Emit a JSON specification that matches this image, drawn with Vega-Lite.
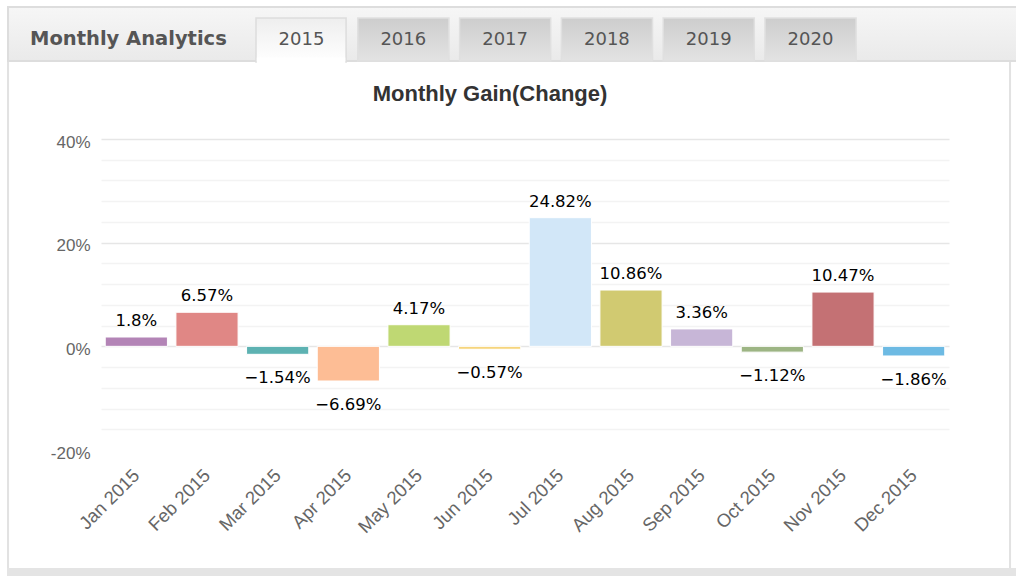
{
  "$schema": "https://vega.github.io/schema/vega-lite/v6.json",
  "padding": {"left": 6, "top": 6, "right": 0, "bottom": 0},
  "background": "#ffffff",
  "spacing": 77,
  "bounds": "flush",
  "config": {"view": {"stroke": null}},
  "datasets": {
    "header": [
      {"part": "frame", "x0": -2.446, "x1": 7.417, "y0": -0.018, "y1": 10.218},
      {"part": "inner", "x0": -2.426, "x1": 7.397, "y0": 0.018, "y1": 10.2},
      {"part": "bottombar", "x0": -2.446, "x1": 7.475, "y0": 10.2, "y1": 10.345},
      {"part": "headborder", "x0": -2.446, "x1": 7.475, "y0": -0.018, "y1": 1.0},
      {"part": "headfill", "x0": -2.426, "x1": 7.475, "y0": 0.018, "y1": 0.964},
      {"part": "seltab", "label": "2015", "x0": 0, "x1": 0.885, "y0": 0.2, "y1": 1.0, "xc": 0.447, "yc": 0.6},
      {"part": "tab", "label": "2016", "x0": 1, "x1": 1.895, "y0": 0.2, "y1": 0.982, "xc": 1.447, "yc": 0.6},
      {"part": "tab", "label": "2017", "x0": 2, "x1": 2.895, "y0": 0.2, "y1": 0.982, "xc": 2.447, "yc": 0.6},
      {"part": "tab", "label": "2018", "x0": 3, "x1": 3.895, "y0": 0.2, "y1": 0.982, "xc": 3.447, "yc": 0.6},
      {"part": "tab", "label": "2019", "x0": 4, "x1": 4.895, "y0": 0.2, "y1": 0.982, "xc": 4.447, "yc": 0.6},
      {"part": "tab", "label": "2020", "x0": 5, "x1": 5.895, "y0": 0.2, "y1": 0.982, "xc": 5.447, "yc": 0.6},
      {"part": "selcover", "x0": 0.008, "x1": 0.877, "y0": 0.92, "y1": 1.03},
      {"part": "heading", "label": "Monthly Analytics", "x0": -2.22, "y0": 0.575}
    ],
    "gains": [
      {"month": "Jan 2015", "gain": 0.018},
      {"month": "Feb 2015", "gain": 0.0657},
      {"month": "Mar 2015", "gain": -0.0154},
      {"month": "Apr 2015", "gain": -0.0669},
      {"month": "May 2015", "gain": 0.0417},
      {"month": "Jun 2015", "gain": -0.0057},
      {"month": "Jul 2015", "gain": 0.2482},
      {"month": "Aug 2015", "gain": 0.1086},
      {"month": "Sep 2015", "gain": 0.0336},
      {"month": "Oct 2015", "gain": -0.0112},
      {"month": "Nov 2015", "gain": 0.1047},
      {"month": "Dec 2015", "gain": -0.0186}
    ]
  },
  "vconcat": [
    {
      "width": 848,
      "height": 55,
      "data": {"name": "header"},
      "encoding": {
        "x": {"field": "x0", "type": "quantitative", "axis": null, "scale": {"domain": [-1.5226, 6.8075], "nice": false, "zero": false}},
        "y": {"field": "y0", "type": "quantitative", "axis": null, "scale": {"domain": [0, 1], "nice": false, "zero": false, "reverse": true}}
      },
      "layer": [
        {"transform": [{"filter": "datum.part === 'frame'"}], "mark": {"type": "rect", "fill": "#e2e2e2"}, "encoding": {"x2": {"field": "x1"}, "y2": {"field": "y1"}}},
        {"transform": [{"filter": "datum.part === 'inner'"}], "mark": {"type": "rect", "fill": "#ffffff"}, "encoding": {"x2": {"field": "x1"}, "y2": {"field": "y1"}}},
        {"transform": [{"filter": "datum.part === 'bottombar'"}], "mark": {"type": "rect", "fill": "#e4e4e4"}, "encoding": {"x2": {"field": "x1"}, "y2": {"field": "y1"}}},
        {"transform": [{"filter": "datum.part === 'headborder'"}], "mark": {"type": "rect", "fill": "#dddddd"}, "encoding": {"x2": {"field": "x1"}, "y2": {"field": "y1"}}},
        {"transform": [{"filter": "datum.part === 'headfill'"}], "mark": {"type": "rect", "fill": {"gradient": "linear", "x1": 0, "y1": 0, "x2": 0, "y2": 1, "stops": [{"offset": 0, "color": "#f6f6f6"}, {"offset": 1, "color": "#eaeaea"}]}}, "encoding": {"x2": {"field": "x1"}, "y2": {"field": "y1"}}},
        {"transform": [{"filter": "datum.part === 'tab'"}], "mark": {"type": "rect", "stroke": "#e0e0e0", "strokeWidth": 1.5, "fill": {"gradient": "linear", "x1": 0, "y1": 0, "x2": 0, "y2": 1, "stops": [{"offset": 0, "color": "#cdcdcd"}, {"offset": 1, "color": "#e3e3e3"}]}}, "encoding": {"x2": {"field": "x1"}, "y2": {"field": "y1"}}},
        {"transform": [{"filter": "datum.part === 'seltab'"}], "mark": {"type": "rect", "stroke": "#dddddd", "strokeWidth": 1.5, "fill": {"gradient": "linear", "x1": 0, "y1": 0, "x2": 0, "y2": 1, "stops": [{"offset": 0, "color": "#eeeeee"}, {"offset": 1, "color": "#ffffff"}]}}, "encoding": {"x2": {"field": "x1"}, "y2": {"field": "y1"}}},
        {"transform": [{"filter": "datum.part === 'selcover'"}], "mark": {"type": "rect", "fill": "#ffffff"}, "encoding": {"x2": {"field": "x1"}, "y2": {"field": "y1"}}},
        {"transform": [{"filter": "datum.part === 'heading'"}], "mark": {"type": "text", "align": "left", "baseline": "middle", "font": "DejaVu Sans", "fontSize": 19.5, "fontWeight": "bold", "fill": "#555555"}, "encoding": {"text": {"field": "label"}}},
        {"transform": [{"filter": "datum.part === 'tab' || datum.part === 'seltab'"}], "mark": {"type": "text", "align": "center", "baseline": "middle", "font": "DejaVu Sans", "fontSize": 18, "fill": "#555555"}, "encoding": {"x": {"field": "xc", "type": "quantitative", "axis": null}, "y": {"field": "yc", "type": "quantitative", "axis": null}, "text": {"field": "label"}}}
      ]
    },
    {
      "width": 848,
      "height": 311,
      "data": {"name": "gains"},
      "title": {"text": "Monthly Gain(Change)", "font": "Liberation Sans", "fontSize": 22, "fontWeight": "bold", "color": "#333333", "anchor": "middle", "frame": "group", "dx": -35, "baseline": "alphabetic", "offset": 10},
      "encoding": {
        "x": {"field": "month", "type": "nominal", "sort": null, "scale": {"paddingInner": 0.12, "paddingOuter": 0.06},
          "axis": {"title": null, "labelAngle": -45, "labelAlign": "right", "labelBaseline": "middle", "labelFont": "Liberation Sans", "labelFontSize": 18.5, "labelColor": "#666666", "labelPadding": 22, "ticks": false, "domain": false, "grid": false}}
      },
      "layer": [
        {
          "mark": {"type": "bar", "stroke": "#ffffff", "strokeWidth": 1},
          "encoding": {
            "y": {"field": "gain", "type": "quantitative", "scale": {"domain": [-0.2, 0.4], "nice": false},
              "axis": {"orient": "left", "values": [-0.2, 0, 0.2, 0.4], "labelExpr": "round(datum.value*100) + '%'", "labelFont": "Liberation Sans", "labelFontSize": 17, "labelColor": "#666666", "labelPadding": 11, "labelOffset": 3, "ticks": false, "domain": false, "title": null, "grid": true, "gridColor": "#e6e6e6", "gridWidth": 1.5, "gridOpacity": {"condition": {"test": "datum.value < -0.1", "value": 0}, "value": 1}}},
            "color": {"field": "month", "type": "nominal", "sort": null, "legend": null,
              "scale": {"range": ["#b384b6", "#e08785", "#5db2b2", "#fdbd95", "#bfd873", "#f6d57d", "#d2e7f8", "#d1ca71", "#c7b6d7", "#9db584", "#c47174", "#6dbae3"]}}
          }
        },
        {
          "transform": [{"filter": "datum.gain >= 0"}],
          "mark": {"type": "text", "font": "DejaVu Sans", "fontSize": 16.5, "fill": "#000000", "baseline": "alphabetic", "dy": -11},
          "encoding": {
            "y": {"field": "gain", "type": "quantitative",
              "axis": {"orient": "left", "values": [-0.16, -0.12, -0.08, -0.04, 0.04, 0.08, 0.12, 0.16, 0.24, 0.28, 0.32, 0.36], "labels": false, "ticks": false, "domain": false, "title": null, "grid": true, "gridColor": "#f3f3f3", "gridWidth": 1.5}},
            "text": {"field": "gain", "type": "quantitative", "format": ".2~%"}
          }
        },
        {
          "transform": [{"filter": "datum.gain < 0"}],
          "mark": {"type": "text", "font": "DejaVu Sans", "fontSize": 16.5, "fill": "#000000", "baseline": "alphabetic", "dy": 29},
          "encoding": {
            "y": {"field": "gain", "type": "quantitative", "axis": null},
            "text": {"field": "gain", "type": "quantitative", "format": ".2~%"}
          }
        }
      ],
      "resolve": {"axis": {"y": "independent"}}
    }
  ]
}
